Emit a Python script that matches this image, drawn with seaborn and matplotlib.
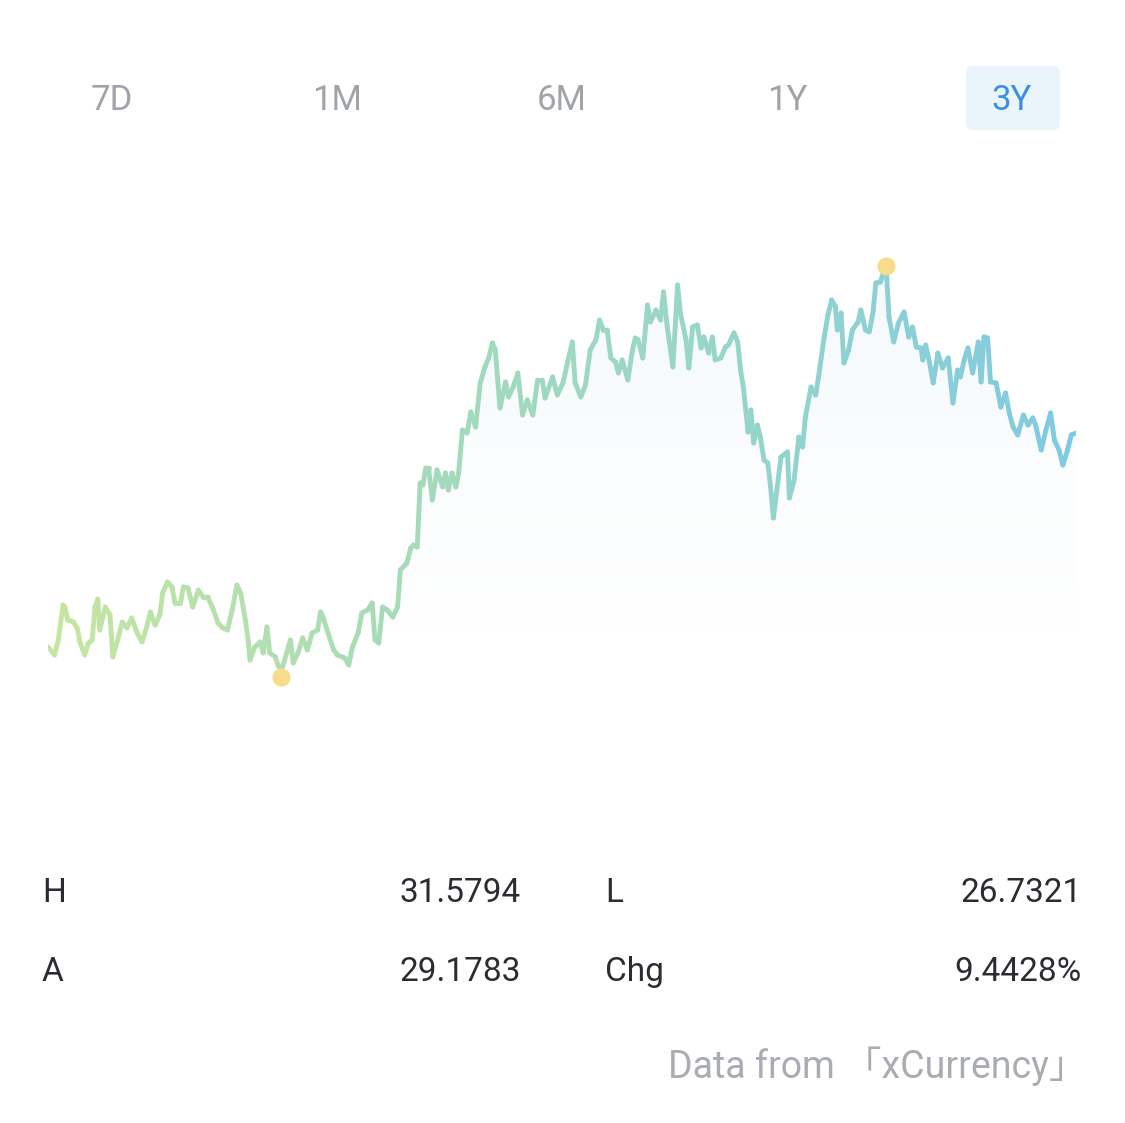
import numpy as np
import pandas as pd
import matplotlib
matplotlib.use("Agg")
import matplotlib.pyplot as plt
import matplotlib.transforms as mtransforms
from matplotlib.collections import LineCollection
from matplotlib.colors import LinearSegmentedColormap
from matplotlib.patches import FancyBboxPatch
import seaborn as sns

# ---------------- data ----------------
days = [0, 7, 11, 16, 18, 21, 27, 31, 34, 39, 43, 47, 50, 53, 55, 61, 66, 69, 75, 79,
        84, 89, 95, 100, 105, 109, 114, 119, 122, 127, 132, 135, 141, 144, 149, 154, 160, 165, 170, 176,
        181, 186, 191, 196, 201, 205, 210, 213, 215, 220, 226, 229, 233, 236, 242, 245, 248, 250, 258, 261,
        266, 271, 276, 281, 287, 290, 293, 298, 304, 308, 313, 316, 320, 324, 330, 334, 340, 345, 348, 352,
        356, 361, 367, 372, 375, 378, 382, 386, 389, 393, 396, 399, 402, 405, 409, 414, 420, 423, 426, 430,
        434, 437, 441, 446, 450, 455, 460, 465, 469, 473, 476, 481, 487, 490, 495, 500, 505, 510, 516, 521,
        526, 529, 537, 542, 548, 553, 558, 561, 567, 572, 577, 583, 587, 591, 595, 599, 604, 607, 611, 617,
        622, 625, 628, 633, 638, 641, 647, 652, 655, 659, 665, 670, 673, 679, 682, 686, 691, 695, 698, 703,
        707, 710, 716, 721, 724, 730, 734, 737, 740, 745, 748, 751, 755, 758, 762, 766, 769, 772, 777, 780,
        787, 789, 794, 799, 803, 806, 812, 817, 820, 826, 830, 834, 838, 840, 844, 847, 852, 856, 862, 865,
        870, 874, 878, 881, 886, 889, 892, 895, 900, 905, 911, 916, 920, 924, 929, 931, 934, 937, 942, 947,
        952, 958, 963, 968, 971, 975, 979, 984, 990, 993, 996, 1000, 1003, 1009, 1014, 1019, 1023, 1027, 1032, 1038,
        1043, 1048, 1051, 1057, 1062, 1067, 1071, 1076, 1080, 1085, 1089, 1094]

rates = [26.987, 26.890, 27.072, 27.496, 27.471, 27.314, 27.290, 27.217, 27.047, 26.890, 27.035, 27.072, 27.471, 27.568, 27.193, 27.471, 27.374, 26.866, 27.108, 27.290,
         27.217, 27.338, 27.156, 27.047, 27.229, 27.411, 27.253, 27.374, 27.641, 27.774, 27.714, 27.520, 27.520, 27.714, 27.702, 27.471, 27.677, 27.593, 27.593, 27.435,
         27.278, 27.217, 27.193, 27.435, 27.738, 27.641, 27.314, 27.072, 26.829, 26.987, 27.047, 26.914, 27.229, 26.914, 26.866, 26.756, 26.7321, 26.756, 27.072, 26.793,
         26.914, 27.096, 26.950, 27.156, 27.193, 27.411, 27.338, 27.156, 26.950, 26.890, 26.866, 26.853, 26.769, 26.987, 27.156, 27.399, 27.435, 27.520, 27.072, 27.035,
         27.471, 27.435, 27.350, 27.471, 27.920, 27.956, 28.005, 28.186, 28.223, 28.198, 28.974, 28.950, 29.156, 29.156, 28.768, 29.132, 28.926, 29.095, 28.889, 29.095,
         28.926, 29.095, 29.616, 29.580, 29.834, 29.653, 30.186, 30.380, 30.489, 30.671, 30.586, 29.883, 30.198, 30.016, 30.137, 30.307, 29.798, 29.980, 29.798, 30.222,
         30.222, 30.004, 30.259, 30.040, 30.186, 30.440, 30.683, 30.186, 30.016, 30.162, 30.586, 30.707, 30.949, 30.828, 30.828, 30.489, 30.440, 30.307, 30.465, 30.222,
         30.586, 30.731, 30.707, 30.489, 31.131, 30.925, 31.070, 30.949, 31.289, 30.864, 30.380, 31.373, 31.034, 30.707, 30.368, 30.864, 30.889, 30.610, 30.743, 30.549,
         30.743, 30.465, 30.489, 30.622, 30.646, 30.792, 30.683, 30.343, 30.137, 29.592, 29.859, 29.459, 29.677, 29.531, 29.253, 29.216, 28.926, 28.550, 29.010, 29.289,
         29.350, 28.792, 29.010, 29.531, 29.410, 29.774, 30.137, 30.040, 30.259, 30.743, 31.010, 31.192, 31.107, 30.828, 31.034, 30.428, 30.586, 30.828, 30.925, 31.070,
         30.828, 30.804, 31.046, 31.398, 31.410, 31.531, 31.5794, 30.986, 30.683, 30.913, 31.046, 30.743, 30.864, 30.622, 30.610, 30.465, 30.646, 30.501, 30.186, 30.549,
         30.368, 30.489, 29.943, 30.343, 30.259, 30.465, 30.610, 30.307, 30.683, 30.198, 30.743, 30.731, 30.198, 30.186, 29.895, 30.065, 29.822, 29.653, 29.556, 29.798,
         29.677, 29.762, 29.677, 29.374, 29.616, 29.822, 29.495, 29.374, 29.192, 29.374, 29.556, 29.580]

tabs = ["7D", "1M", "6M", "1Y", "3Y"]
active_tab = "3Y"
stat_labels = ["H", "L", "A", "Chg"]
stat_values = ["31.5794", "26.7321", "29.1783", "9.4428%"]
source_text = "Data from \u300cxCurrency\u300d"

df = pd.DataFrame({"day": days, "rate": rates})

# ---------------- figure ----------------
W, H = 1125, 1123
DPI = 100
sns.set_theme(style="white")
plt.rcParams["font.family"] = ["Roboto", "Noto Sans CJK SC", "DejaVu Sans"]

fig = plt.figure(figsize=(W / DPI, H / DPI), dpi=DPI)
fig.patch.set_facecolor("white")

def fx(px):
    return px / W

def fy(py):
    return 1 - py / H

# chart axes: pixel x 48..1076, pixel y 160..830
ax = fig.add_axes([fx(48), fy(830), fx(1076) - fx(48), fy(160) - fy(830)])
ax.set_facecolor("none")
ymin, ymax = 24.769, 32.888
ax.set_xlim(0, 1094)
ax.set_ylim(ymin, ymax)
ax.axis("off")

sns.lineplot(data=df, x="day", y="rate", ax=ax, color="#a0d9c0", lw=3.5)
base_line = ax.lines[0]
xy = base_line.get_xydata()
base_line.set_visible(False)

# gradient line
cmap = LinearSegmentedColormap.from_list("g", ["#c6e6a0", "#a6dbb8", "#96d5c9", "#7fcae3"])
pts = xy.reshape(-1, 1, 2)
segs = np.concatenate([pts[:-1], pts[1:]], axis=1)
mid = (xy[:-1, 0] + xy[1:, 0]) / 2 / 1094
lc = LineCollection(segs, colors=cmap(mid), linewidths=3.5, capstyle="round", joinstyle="round", zorder=3)
ax.add_collection(lc)

# faint area gradient under the line
poly = ax.fill_between(xy[:, 0], xy[:, 1], ymin, facecolor="none", edgecolor="none")
rgba = np.zeros((256, 1, 4))
rgba[..., 0] = 0.55
rgba[..., 1] = 0.75
rgba[..., 2] = 0.85
fade_top = max(rates)
fade_bot = 27.0
yy = np.linspace(ymax, ymin, 256)
alpha = np.clip((yy - fade_bot) / (fade_top - fade_bot), 0, 1) * 0.09
rgba[..., 3] = alpha.reshape(-1, 1)
im = ax.imshow(rgba, extent=[0, 1094, ymin, ymax], aspect="auto", zorder=1, origin="upper")
path = poly.get_paths()[0]
im.set_clip_path(path, transform=ax.transData)

# high / low markers
i_hi = int(np.argmax(rates))
i_lo = int(np.argmin(rates))
off_hi = mtransforms.ScaledTranslation(0, 2 / DPI, fig.dpi_scale_trans)
off_lo = mtransforms.ScaledTranslation(0, -9 / DPI, fig.dpi_scale_trans)
ax.scatter([days[i_hi]], [rates[i_hi]], s=170, color="#f8dc8c", zorder=5, linewidths=0,
           transform=ax.transData + off_hi)
ax.scatter([days[i_lo]], [rates[i_lo]], s=170, color="#f8dc8c", zorder=5, linewidths=0,
           transform=ax.transData + off_lo)

# ---------------- tabs ----------------
tab_x = [112, 337, 562, 787, 1012]
for t, xpx in zip(tabs, tab_x):
    if t == active_tab:
        box = FancyBboxPatch((fx(966), fy(130)), fx(1060) - fx(966), fy(66) - fy(130),
                             boxstyle="round,pad=0,rounding_size=0.006",
                             transform=fig.transFigure, facecolor="#e9f5fb", edgecolor="none")
        fig.add_artist(box)
        col = "#3b8fe0"
    else:
        col = "#a0a3a8"
    fig.text(fx(xpx), fy(100), t, ha="center", va="center", fontsize=25, color=col)

# ---------------- stats ----------------
txt_col = "#2a2c31"
rows_y = [893, 972]
for r in range(2):
    lab1, lab2 = stat_labels[2 * r], stat_labels[2 * r + 1]
    v1, v2 = stat_values[2 * r], stat_values[2 * r + 1]
    fig.text(fx(42), fy(rows_y[r]), lab1, ha="left", va="center", fontsize=24, color=txt_col)
    fig.text(fx(521), fy(rows_y[r]), v1, ha="right", va="center", fontsize=24, color=txt_col)
    fig.text(fx(605), fy(rows_y[r]), lab2, ha="left", va="center", fontsize=24, color=txt_col)
    fig.text(fx(1082), fy(rows_y[r]), v2, ha="right", va="center", fontsize=24, color=txt_col)

fig.text(fx(1086), fy(1066), source_text, ha="right", va="center", fontsize=27, color="#a9acb1")

fig.savefig("out.png", dpi=DPI, facecolor="white")
